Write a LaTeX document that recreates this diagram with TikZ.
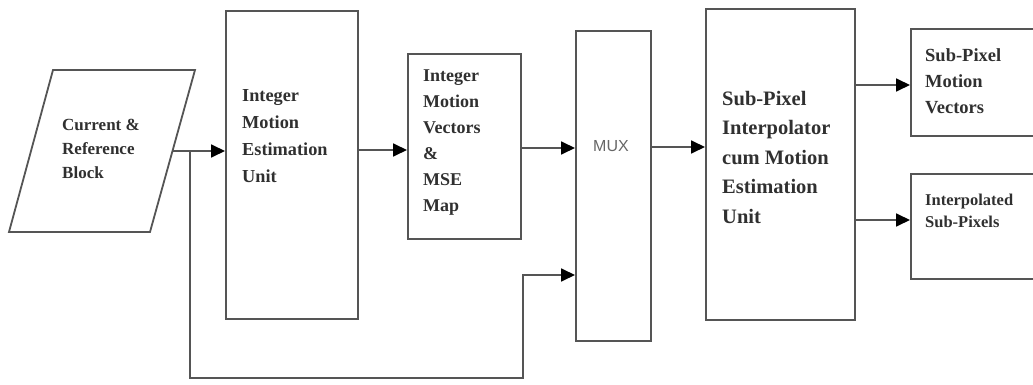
\documentclass[tikz,border=0pt]{standalone}
\usepackage{fontspec}
\setmainfont{Liberation Serif}
\setsansfont{Liberation Sans}
\usetikzlibrary{arrows.meta}
\definecolor{linec}{HTML}{555555}
\definecolor{txtc}{HTML}{303030}
\tikzset{
  box/.style={draw=linec, line width=1.8pt, rectangle, inner sep=0pt, anchor=north west},
  lab/.style={anchor=north west, align=left, inner sep=0pt, text=txtc},
  conn/.style={draw=linec, line width=1.8pt},
  arr/.style={conn, -{Triangle[length=14pt,width=13pt,color=black]}},
}
\begin{document}
\begin{tikzpicture}[x=1pt,y=-1pt]
\useasboundingbox (0,0) rectangle (1033,385);
\clip (0,0) rectangle (1033,385);
% input parallelogram
\draw[conn, line join=miter] (53,70) -- (195,70) -- (150,232) -- (9,232) -- cycle;
\coordinate (crbR) at (172.5,151);
\node[lab, font=\bfseries\fontsize{17}{24}\selectfont] (crbT) at (62,119) {Current \&\\Reference\\Block};
% boxes
\node[box, minimum width=132pt, minimum height=308pt] (ime) at (225,10) {};
\node[lab, font=\bfseries\fontsize{18.3}{27}\selectfont] (imeT) at (242,89) {Integer\\Motion\\Estimation\\Unit};
\node[box, minimum width=113pt, minimum height=185pt] (imv) at (407,53) {};
\node[lab, font=\bfseries\fontsize{18}{26}\selectfont] (imvT) at (423,70) {Integer\\Motion\\Vectors\\\&\\MSE\\Map};
\node[box, minimum width=75pt, minimum height=310pt] (mux) at (575,30) {};
\node[lab, font=\sffamily\fontsize{16}{18}\selectfont, text=black!60] (muxT) at (593,140) {MUX};
\node[box, minimum width=149pt, minimum height=311pt] (spi) at (705,8) {};
\node[lab, font=\bfseries\fontsize{20.5}{29.5}\selectfont] (spiT) at (722,91) {Sub-Pixel\\Interpolator\\cum Motion\\Estimation\\Unit};
\node[box, minimum width=135pt, minimum height=107pt] (spmv) at (910,28) {};
\node[lab, font=\bfseries\fontsize{18.5}{26}\selectfont] (spmvT) at (925,48) {Sub-Pixel\\Motion\\Vectors};
\node[box, minimum width=135pt, minimum height=105pt] (isp) at (910,173) {};
\node[lab, font=\bfseries\fontsize{16.5}{22}\selectfont] (ispT) at (925,194) {Interpolated\\Sub-Pixels};
% helper coordinates
\coordinate (br) at (190,151);
\coordinate (lp) at (523,378);
\coordinate (yA) at (0,150);
\coordinate (yB) at (0,148);
\coordinate (yC) at (0,147);
\coordinate (yD) at (0,275);
\coordinate (yE) at (0,85);
\coordinate (yF) at (0,220);
% connectors
\draw[arr] (crbR) -- (crbR -| ime.west);
\draw[arr] (br) |- (lp) |- (mux.west |- yD);
\draw[arr] (ime.east |- yA) -- (imv.west |- yA);
\draw[arr] (imv.east |- yB) -- (mux.west |- yB);
\draw[arr] (mux.east |- yC) -- (spi.west |- yC);
\draw[arr] (spi.east |- yE) -- (spmv.west |- yE);
\draw[arr] (spi.east |- yF) -- (isp.west |- yF);
\end{tikzpicture}
\end{document}
